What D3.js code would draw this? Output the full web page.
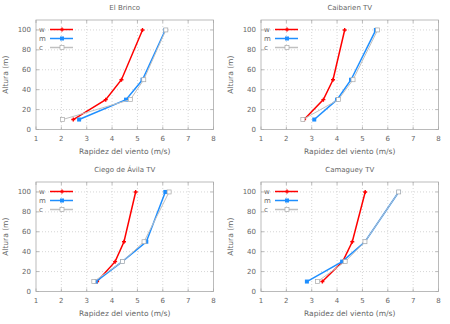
<!DOCTYPE html>
<html>
<head>
  <meta charset="utf-8">
  <title>Rapidez del viento</title>
  <script src="https://d3js.org/d3.v7.min.js"></script>
  <style>
    body { margin: 0; background: #fff; }
    text { font-family: "DejaVu Sans", sans-serif; fill: #666; }
    .grid-line { stroke: #ccc; stroke-dasharray: 1 2; stroke-width: 0.8; }
  </style>
</head>
<body>
  <div id="chart"></div>

  <script>
    const stations = ["El Brinco", "Caibarien TV", "Ciego de Ávila TV", "Camaguey TV"];
    const heights = [10, 30, 50, 100];
    const xTicks = [1, 2, 3, 4, 5, 6, 7, 8];
    const yTicks = [0, 20, 40, 60, 80, 100];
    const seriesNames = ["w", "m", "c"];

    const brincoW = [2.47, 3.75, 4.37, 5.2];
    const brincoM = [2.7, 4.55, 5.2, 6.1];
    const brincoC = [2.05, 4.72, 5.25, 6.12];

    const caibarienW = [2.7, 3.46, 3.84, 4.3];
    const caibarienM = [3.1, 4.0, 4.55, 5.53];
    const caibarienC = [2.65, 4.05, 4.63, 5.6];

    const ciegoW = [3.41, 4.12, 4.47, 4.93];
    const ciegoM = [3.36, 4.4, 5.35, 6.1];
    const ciegoC = [3.28, 4.41, 5.26, 6.25];

    const camagueyW = [3.42, 4.22, 4.6, 5.11];
    const camagueyM = [2.81, 4.2, 5.1, 6.43];
    const camagueyC = [3.23, 4.32, 5.1, 6.43];

    const panelData = [
      [brincoW, brincoM, brincoC],
      [caibarienW, caibarienM, caibarienC],
      [ciegoW, ciegoM, ciegoC],
      [camagueyW, camagueyM, camagueyC]
    ];

    const colors = ["#ff0000", "#1e8fff", "#c0c0c0"];

    const panelW = 225, panelH = 162;
    const margin = { top: 20, right: 11.5, bottom: 32.5, left: 36 };
    const width = panelW - margin.left - margin.right;
    const height = panelH - margin.top - margin.bottom;

    const svg = d3.select("#chart")
      .append("svg")
      .attr("width", 450)
      .attr("height", 324);

    const xScale = d3.scaleLinear().domain([1, 8]).range([0, width]);
    const yScale = d3.scaleLinear().domain([0, 110]).range([height, 0]);

    const line = d3.line()
      .x(d => xScale(d[0]))
      .y(d => yScale(d[1]));

    function drawMarker(g, k, x, y) {
      if (k === 0) {
        g.append("path")
          .attr("d", `M${x - 2},${y}H${x + 2}M${x},${y - 2}V${y + 2}`)
          .attr("stroke", colors[0]).attr("stroke-width", 1.4);
      } else if (k === 1) {
        g.append("rect")
          .attr("x", x - 2).attr("y", y - 2)
          .attr("width", 4).attr("height", 4)
          .attr("fill", colors[1]);
      } else {
        g.append("rect")
          .attr("x", x - 2).attr("y", y - 2)
          .attr("width", 4).attr("height", 4)
          .attr("fill", "#fff").attr("stroke", "#a8a8a8").attr("stroke-width", 0.7);
      }
    }

    stations.forEach((name, p) => {
      const ox = (p % 2) * panelW, oy = Math.floor(p / 2) * panelH;
      const g = svg.append("g")
        .attr("transform", `translate(${ox + margin.left},${oy + margin.top})`);

      // grid
      g.selectAll(".gx").data(xTicks.slice(1, -1)).enter()
        .append("line").attr("class", "grid-line")
        .attr("x1", d => xScale(d)).attr("x2", d => xScale(d))
        .attr("y1", 0).attr("y2", height);
      g.selectAll(".gy").data(yTicks.slice(1)).enter()
        .append("line").attr("class", "grid-line")
        .attr("x1", 0).attr("x2", width)
        .attr("y1", d => yScale(d)).attr("y2", d => yScale(d));

      // ticks (inside, mirrored)
      xTicks.forEach(t => {
        g.append("line").attr("x1", xScale(t)).attr("x2", xScale(t))
          .attr("y1", height).attr("y2", height - 3).attr("stroke", "#aaa").attr("stroke-width", 0.8);
        g.append("line").attr("x1", xScale(t)).attr("x2", xScale(t))
          .attr("y1", 0).attr("y2", 3).attr("stroke", "#aaa").attr("stroke-width", 0.8);
      });
      yTicks.forEach(t => {
        g.append("line").attr("x1", 0).attr("x2", 3)
          .attr("y1", yScale(t)).attr("y2", yScale(t)).attr("stroke", "#aaa").attr("stroke-width", 0.8);
        g.append("line").attr("x1", width).attr("x2", width - 3)
          .attr("y1", yScale(t)).attr("y2", yScale(t)).attr("stroke", "#aaa").attr("stroke-width", 0.8);
      });

      g.append("rect")
        .attr("width", width).attr("height", height)
        .attr("fill", "none").attr("stroke", "#aaa").attr("stroke-width", 0.8);

      // tick labels
      g.selectAll(".xl").data(xTicks).enter()
        .append("text")
        .attr("x", d => xScale(d)).attr("y", height + 11)
        .attr("text-anchor", "middle").attr("font-size", 7)
        .attr("fill", "#888")
        .text(d => d);
      g.selectAll(".yl").data(yTicks).enter()
        .append("text")
        .attr("x", -5).attr("y", d => yScale(d) + 2.5)
        .attr("text-anchor", "end").attr("font-size", 7)
        .text(d => d);

      // series
      panelData[p].forEach((vals, k) => {
        const pts = vals.map((v, i) => [v, heights[i]]);
        g.append("path").datum(pts)
          .attr("fill", "none")
          .attr("stroke", colors[k])
          .attr("stroke-width", k === 2 ? 1 : 1.5)
          .attr("d", line);
        pts.forEach(d => drawMarker(g, k, xScale(d[0]), yScale(d[1])));
      });

      // legend
      seriesNames.forEach((s, k) => {
        const ly = 9.5 + k * 9;
        g.append("text").attr("x", 3).attr("y", ly + 2.5)
          .attr("font-size", 7).attr("fill", "#555").text(s);
        g.append("line").attr("x1", 14).attr("x2", 37)
          .attr("y1", ly).attr("y2", ly)
          .attr("stroke", colors[k]).attr("stroke-width", 1.5);
        drawMarker(g, k, 26, ly);
      });

      // title and axis labels
      g.append("text")
        .attr("x", width / 2).attr("y", -10)
        .attr("text-anchor", "middle").attr("font-size", 7)
        .text(name);
      g.append("text")
        .attr("x", width / 2).attr("y", height + 24)
        .attr("text-anchor", "middle").attr("font-size", 7.5)
        .text("Rapidez del viento (m/s)");
      g.append("text")
        .attr("transform", `translate(-28,${height / 2}) rotate(-90)`)
        .attr("text-anchor", "middle").attr("font-size", 7.5)
        .text("Altura (m)");
    });
  </script>
</body>
</html>
